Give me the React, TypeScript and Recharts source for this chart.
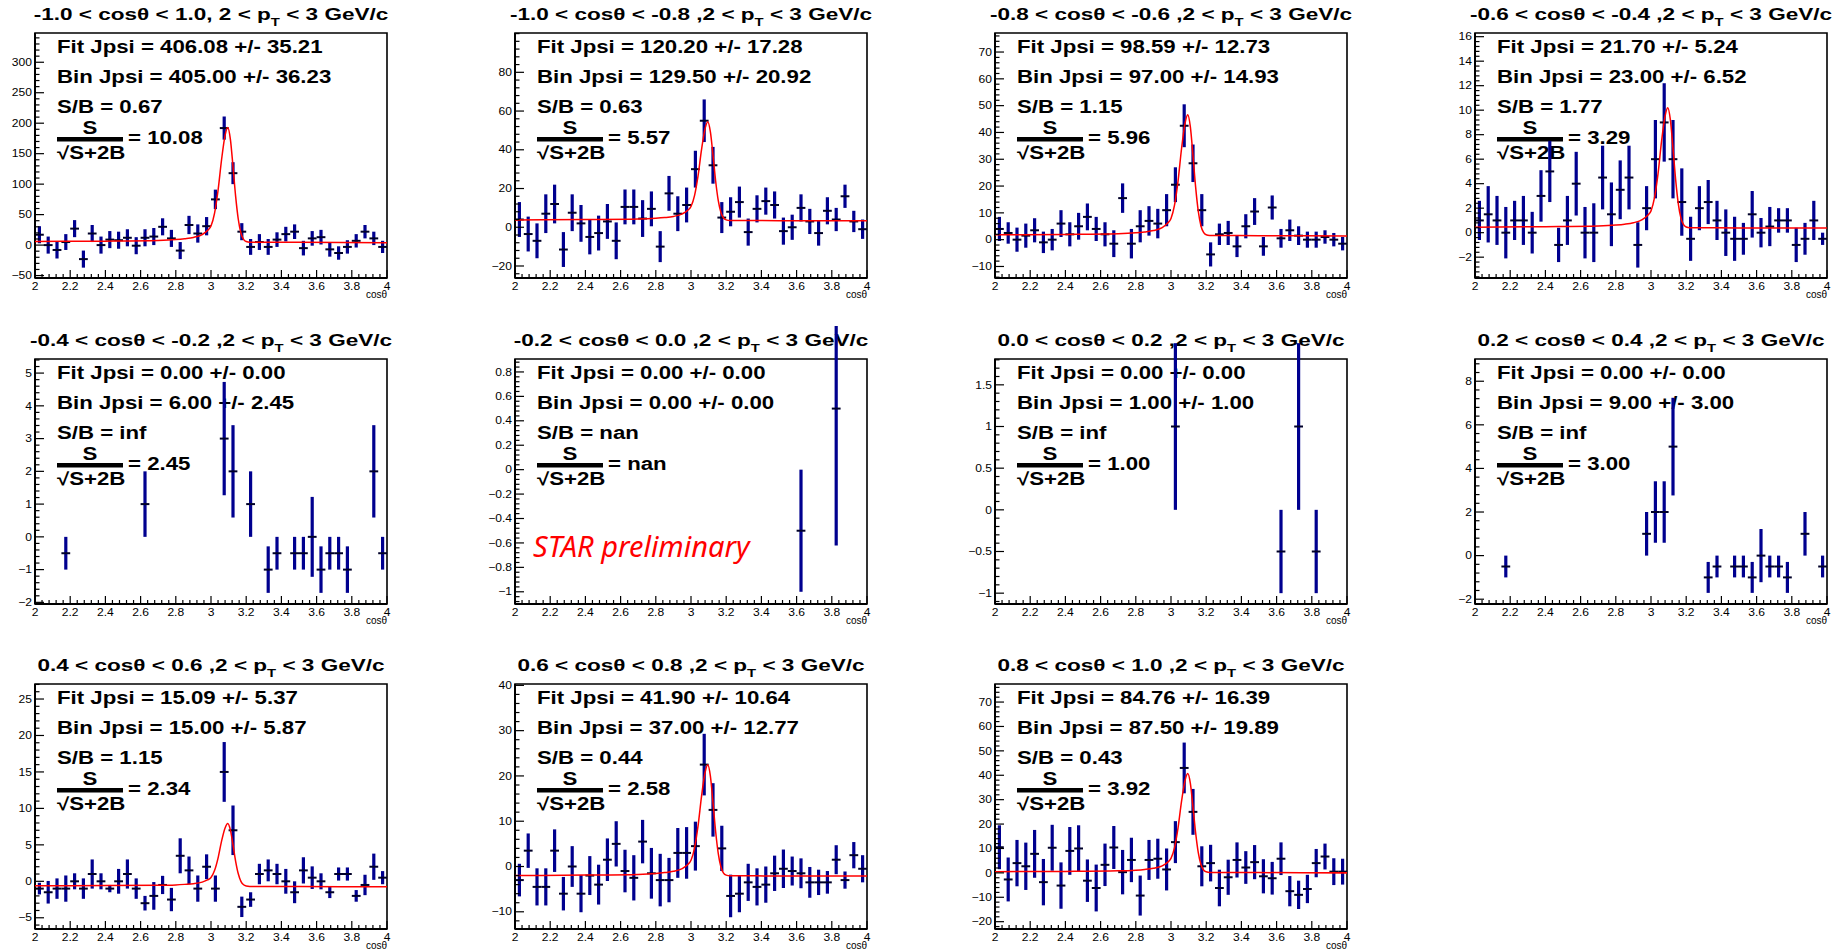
import React from 'react';
import { ScatterChart, Scatter, XAxis, YAxis, ErrorBar, ReferenceArea } from 'recharts';

// ---------- shared binning (dielectron mass, 40 bins of 0.05 from 2 to 4) ----------
const BIN_CENTERS = [
  2.025, 2.075, 2.125, 2.175, 2.225, 2.275, 2.325, 2.375, 2.425, 2.475,
  2.525, 2.575, 2.625, 2.675, 2.725, 2.775, 2.825, 2.875, 2.925, 2.975,
  3.025, 3.075, 3.125, 3.175, 3.225, 3.275, 3.325, 3.375, 3.425, 3.475,
  3.525, 3.575, 3.625, 3.675, 3.725, 3.775, 3.825, 3.875, 3.925, 3.975,
];
const BIN_HALF_WIDTH = 0.025;
const X_MAJOR_TICKS = [2, 2.2, 2.4, 2.6, 2.8, 3, 3.2, 3.4, 3.6, 3.8, 4];
const X_MINOR_STEP = 0.04;

// sample positions of the fitted signal + background curve
const FIT_X = [2.0, 2.4, 2.7, 2.8, 2.85, 2.9, 2.95, 2.98, 3.0, 3.02, 3.04, 3.06, 3.08, 3.095, 3.11, 3.125, 3.14, 3.155, 3.17, 3.185, 3.2, 3.22, 3.25, 3.5, 4.0];

// ---------- panel titles ----------
const TITLE_HEADS = [
  '-1.0 < cosθ < 1.0, 2 < p',
  '-1.0 < cosθ < -0.8 ,2 < p',
  '-0.8 < cosθ < -0.6 ,2 < p',
  '-0.6 < cosθ < -0.4 ,2 < p',
  '-0.4 < cosθ < -0.2 ,2 < p',
  '-0.2 < cosθ < 0.0 ,2 < p',
  '0.0 < cosθ < 0.2 ,2 < p',
  '0.2 < cosθ < 0.4 ,2 < p',
  '0.4 < cosθ < 0.6 ,2 < p',
  '0.6 < cosθ < 0.8 ,2 < p',
  '0.8 < cosθ < 1.0 ,2 < p',
];
const TITLE_TAIL = ' < 3 GeV/c';

// ---------- yield summaries ----------
const FIT_YIELD = ['406.08 +/- 35.21', '120.20 +/- 17.28', '98.59 +/- 12.73', '21.70 +/- 5.24', '0.00 +/- 0.00', '0.00 +/- 0.00', '0.00 +/- 0.00', '0.00 +/- 0.00', '15.09 +/- 5.37', '41.90 +/- 10.64', '84.76 +/- 16.39'];
const BIN_YIELD = ['405.00 +/- 36.23', '129.50 +/- 20.92', '97.00 +/- 14.93', '23.00 +/- 6.52', '6.00 +/- 2.45', '0.00 +/- 0.00', '1.00 +/- 1.00', '9.00 +/- 3.00', '15.00 +/- 5.87', '37.00 +/- 12.77', '87.50 +/- 19.89'];
const S_OVER_B = ['0.67', '0.63', '1.15', '1.77', 'inf', 'nan', 'inf', 'inf', '1.15', '0.44', '0.43'];
const SIGNIFICANCE = ['10.08', '5.57', '5.96', '3.29', '2.45', 'nan', '1.00', '3.00', '2.34', '2.58', '3.92'];

// ---------- y axes ----------
const Y_DOMAINS: [number, number][] = [
  [-54, 348], [-26.2, 100.3], [-14.3, 77.1], [-3.7, 16.3],
  [-2.05, 5.43], [-1.1, 0.906], [-1.13, 1.81], [-2.22, 9.02],
  [-6.54, 27.06], [-13.8, 40.3], [-23, 77.4],
];
const Y_MAJOR_TICKS = [
  [-50, 0, 50, 100, 150, 200, 250, 300],
  [-20, 0, 20, 40, 60, 80],
  [-10, 0, 10, 20, 30, 40, 50, 60, 70],
  [-2, 0, 2, 4, 6, 8, 10, 12, 14, 16],
  [-2, -1, 0, 1, 2, 3, 4, 5],
  [-1, -0.8, -0.6, -0.4, -0.2, 0, 0.2, 0.4, 0.6, 0.8],
  [-1, -0.5, 0, 0.5, 1, 1.5],
  [-2, 0, 2, 4, 6, 8],
  [-5, 0, 5, 10, 15, 20, 25],
  [-10, 0, 10, 20, 30, 40],
  [-20, -10, 0, 10, 20, 30, 40, 50, 60, 70],
];
const Y_MINOR_STEPS = [10, 4, 2, 0.4, 0.2, 0.04, 0.1, 0.4, 1, 2, 2];

// ---------- bin contents and errors ----------
const P1_COUNTS = [17, 0, -8, 5, 27, -23, 19, 0, 9, 8, 12, -1, 12, 14, 30, 11, -9, 33, 19, 31, 75, 192, 118, 22, -3, 5, -3, 9, 18, 22, -5, 11, 13, -7, -13, -3, 7, 22, 11, -3];
const P1_ERRORS = [14, 14, 14, 13, 14, 14, 14, 14, 14, 14, 14, 14, 14, 14, 14, 14, 14, 15, 15, 15, 16, 19, 18, 14, 13, 13, 13, 12, 12, 12, 12, 12, 12, 12, 11, 11, 11, 11, 11, 10];
const P1_FIT = [6, 6.5, 7.6, 9, 10.5, 12.6, 17.3, 23.8, 31.3, 52, 89.6, 140, 180, 193, 174, 129, 80, 42.4, 19.8, 9.5, 5.9, 4.8, 4.75, 4.5, 4.0];

const P2_COUNTS = [4, -3.5, -7, 7, 12, -11.5, 7.5, 2, -5, -3, 3, -7, 10.5, 10.5, 4.5, 9.5, -10, 17.5, 7, 11.5, 30, 55, 32, 5, 8, 13, -2.5, 9.5, 13.5, 11.5, -2, 0, 10, 3, -3, 8.5, 4, 16, 3, -1];
const P2_ERRORS = [9, 9, 9, 10, 10, 9, 9.5, 9.5, 9, 9, 9, 9.5, 9, 9, 9.5, 9, 8, 9, 9, 9, 9.5, 11, 9.5, 8, 7.5, 8, 7, 7, 7, 7, 7, 6.5, 7, 6.5, 6.5, 7, 6, 6, 5.5, 5];
const P2_FIT = [3.8, 3.96, 4.24, 4.62, 5.0, 5.6, 6.9, 8.65, 10.7, 16.3, 26.5, 40.2, 50.9, 54.5, 49.4, 37.2, 23.9, 13.7, 7.6, 4.8, 3.8, 3.5, 3.5, 3.4, 3.3];

const P3_COUNTS = [4, 2.5, 0, 1.5, 3.5, -1, 0, 6, 2, 5, 8.5, 4, 2, -1.5, 15.5, -1.5, 5, 7, 6, 11, 20.5, 42.5, 28.5, 11, -5.5, 2, 2.5, -2.5, 5, 10.5, -2.5, 12, 0.5, 3.5, 1.5, 0, 0, 1, 0, -1.5];
const P3_ERRORS = [4.5, 4, 4.5, 4.5, 4.5, 4, 4, 5, 4.5, 5, 5, 4.5, 4.5, 5, 5.5, 5.5, 6, 5.5, 5.5, 6, 6.5, 8, 7, 6, 4.5, 4, 4.5, 4, 4.5, 5, 3.5, 4.5, 3.5, 4, 3.5, 3, 3, 2.5, 2.5, 2.5];
const P3_FIT = [1.8, 1.95, 2.2, 2.54, 2.9, 3.4, 4.5, 6.1, 7.9, 12.85, 21.85, 34, 43.5, 46.6, 42.1, 31.3, 19.6, 10.6, 5.2, 2.7, 1.83, 1.6, 1.55, 1.5, 1.4];

const P4_COUNTS = [1, 1.5, 1, 0, 1, 1, 0, 3, 5, -1, 1, 4, 0, 0, 4.5, 1.5, 3.5, 4.5, -1, 2, 6, 9, 6, 2.5, -0.5, 2, 2.5, 1, 0, -0.5, -0.5, 1.5, 0, 0.5, 1, 1, -1, -0.5, 1, -0.5];
const P4_ERRORS = [1.6, 2.3, 2, 2.1, 1.6, 2, 1.7, 2.1, 2.5, 1.4, 2, 2.6, 2.1, 2.4, 2.6, 2.6, 2.4, 2.6, 1.85, 1.8, 3.2, 3.2, 3.2, 2.75, 1.8, 1.8, 1.8, 1.6, 1.9, 1.8, 1.3, 1.9, 1.2, 1.6, 1, 1, 1.4, 1.3, 1.6, 0.5];
const P4_FIT = [0.45, 0.49, 0.55, 0.62, 0.69, 0.81, 1.06, 1.4, 1.78, 2.86, 4.82, 7.47, 9.52, 10.2, 9.23, 6.88, 4.33, 2.37, 1.19, 0.65, 0.46, 0.4, 0.4, 0.39, 0.38];

const P5_COUNTS = [
  null, null, null, -0.5, null, null, null, null, null, null,
  null, null, 1, null, null, null, null, null, null, null,
  null, 3, 2, null, 1, null, -1, -0.5, null, -0.5,
  -0.5, 0, -1, -0.5, -0.5, -1, null, null, 2, -0.5,
];
const P5_ERRORS = [
  null, null, null, 0.5, null, null, null, null, null, null,
  null, null, 1, null, null, null, null, null, null, null,
  null, 1.73, 1.41, null, 1, null, 0.71, 0.5, null, 0.5,
  0.5, 1.22, 0.71, 0.5, 0.5, 0.71, null, null, 1.41, 0.5,
];

const P6_COUNTS = [
  null, null, null, null, null, null, null, null, null, null,
  null, null, null, null, null, null, null, null, null, null,
  null, null, null, null, null, null, null, null, null, null,
  null, null, -0.5, null, null, null, 0.5, null, null, null,
];
const P6_ERRORS = [
  null, null, null, null, null, null, null, null, null, null,
  null, null, null, null, null, null, null, null, null, null,
  null, null, null, null, null, null, null, null, null, null,
  null, null, 0.5, null, null, null, 1.12, null, null, null,
];

const P7_COUNTS = [
  null, null, null, null, null, null, null, null, null, null,
  null, null, null, null, null, null, null, null, null, null,
  1, null, null, null, null, null, null, null, null, null,
  null, null, -0.5, null, 1, null, -0.5, null, null, null,
];
const P7_ERRORS = [
  null, null, null, null, null, null, null, null, null, null,
  null, null, null, null, null, null, null, null, null, null,
  1, null, null, null, null, null, null, null, null, null,
  null, null, 0.5, null, 1, null, 0.5, null, null, null,
];

const P8_COUNTS = [
  null, null, null, -0.5, null, null, null, null, null, null,
  null, null, null, null, null, null, null, null, null, 1,
  2, 2, 5, null, null, null, -1, -0.5, null, -0.5,
  -0.5, -1, 0, -0.5, -0.5, -1, null, 1, null, -0.5,
];
const P8_ERRORS = [
  null, null, null, 0.5, null, null, null, null, null, null,
  null, null, null, null, null, null, null, null, null, 1,
  1.41, 1.41, 2.24, null, null, null, 0.71, 0.5, null, 0.5,
  0.5, 0.71, 1.22, 0.5, 0.5, 0.71, null, 1, null, 0.5,
];

const P9_COUNTS = [-1, -1.5, -1, -1, 0, -1, 1, 0, -1, 0, 1, -1, -3, -2, -0.5, -2.5, 3.5, 1.5, -1, 2, -1, 15, 7, -3.5, -2.5, 1, 1.5, 1, 0, -1.5, 1.5, 0.5, 0, -1.5, 1, 1, -2, -0.5, 2, 0.5];
const P9_ERRORS = [0.8, 1.55, 1.4, 1.8, 1.1, 1.4, 2, 1.1, 0.5, 1.7, 2, 1.4, 1, 1.9, 1.25, 1.6, 2.4, 1.9, 1.8, 1.7, 1.8, 4.1, 3.4, 1.4, 1, 1.4, 1.5, 1.4, 1.7, 1.5, 1.8, 1.55, 1.1, 0.8, 0.9, 0.9, 0.8, 1.4, 1.8, 0.9];
const P9_FIT = [-0.6, -0.59, -0.55, -0.49, -0.42, -0.33, -0.11, 0.19, 0.52, 1.47, 3.19, 5.51, 7.32, 7.92, 7.06, 5.0, 2.75, 1.03, 0, -0.47, -0.64, -0.7, -0.7, -0.72, -0.75];

const P10_COUNTS = [-3, 3.5, -4.5, -4.5, 3.5, -6, 0, -6, -2, -4, 1.5, 5, -1, -2.5, 5.5, -1.5, -3, -3, 3, 3, 4.5, 22.5, 12.5, 4, -6.5, -6, -3.5, -4.5, -4, -1.5, -0.5, -1, -1.5, -3.5, -3.5, -3.5, 1.5, -3, 2.5, -0.5];
const P10_ERRORS = [3.6, 3.8, 4.1, 4.1, 4.7, 3.7, 4.5, 4.1, 4.3, 4.4, 4.7, 5, 4.7, 5, 4.8, 5.6, 5.8, 4.9, 5.5, 5.7, 5.4, 6.8, 5.9, 5, 4.7, 4.1, 4.1, 4.1, 4, 3.9, 4.25, 3.2, 3.3, 3.4, 2.8, 2.5, 3.2, 1.9, 2.9, 3];
const P10_FIT = [-2.0, -1.9, -1.75, -1.55, -1.35, -1.07, -0.46, 0.4, 1.38, 4.05, 8.95, 15.55, 20.75, 22.45, 20, 14.1, 7.74, 2.84, -0.1, -1.45, -1.91, -2.06, -2.06, -2.08, -2.1];

const P11_COUNTS = [10.5, -2.7, 4, 2.7, 7.8, -3.8, 10.3, -5.2, 9, 10, -3.2, -6.2, 3.3, 10.4, 0.3, 5.3, -9.3, 5.3, 5.8, 1.4, 12.6, 43, 25, 2.7, 4, -6.2, -1.8, 5.3, 2.2, 4.4, -1.4, -2.2, 5.8, -7.5, -9, -6.6, 4, 6.7, 0.5, 0.5];
const P11_ERRORS = [9, 9, 9.5, 9.7, 9.8, 9.5, 9.4, 9.5, 9.8, 9.5, 8.7, 9.6, 8.7, 8.8, 9.1, 9.1, 8.2, 8.2, 8.2, 8.6, 8.6, 10.4, 9.4, 8.2, 7.5, 7.5, 7.2, 7.2, 6.7, 7, 7, 6.7, 6.7, 6.2, 5.8, 5.8, 5.8, 5.3, 5.5, 5.3];
const P11_FIT = [0.5, 0.6, 0.82, 1.11, 1.42, 1.9, 2.89, 4.31, 5.92, 10.35, 18.44, 29.4, 37.9, 40.7, 36.7, 26.9, 16.4, 8.3, 3.45, 1.2, 0.44, 0.2, 0.19, 0.12, 0.0];

const PANEL_COUNTS = [P1_COUNTS, P2_COUNTS, P3_COUNTS, P4_COUNTS, P5_COUNTS, P6_COUNTS, P7_COUNTS, P8_COUNTS, P9_COUNTS, P10_COUNTS, P11_COUNTS];
const PANEL_ERRORS = [P1_ERRORS, P2_ERRORS, P3_ERRORS, P4_ERRORS, P5_ERRORS, P6_ERRORS, P7_ERRORS, P8_ERRORS, P9_ERRORS, P10_ERRORS, P11_ERRORS];
const PANEL_FITS = [P1_FIT, P2_FIT, P3_FIT, P4_FIT, null, null, null, null, P9_FIT, P10_FIT, P11_FIT];

// ---------- layout & style ----------
const COL_LEFT = [35, 515, 995, 1475];
const ROW_TOP = [33, 359, 684];
const FRAME_W = 352;
const FRAME_H = 245;
const Y_AXIS_W = 35;
const TOP_PAD = 33;
const RIGHT_PAD = 12;
const X_AXIS_H = 28;
const CHART_W = Y_AXIS_W + FRAME_W + RIGHT_PAD;
const CHART_H = TOP_PAD + FRAME_H + X_AXIS_H;

const SANS = "'Liberation Sans', Arial, Helvetica, sans-serif";
const MARKER_BLUE = '#00008f';
const BIN_BAR = '#000028';
const FIT_RED = '#ff0000';
const TITLE_FS = 16;
const TITLE_SX = 1.41;
const STAT_FS = 17.5;
const STAT_SX = 1.27;
const TICK_FS = 10.5;
const TICK_SX = 1.15;

const fmtTick = (v: number) => {
  const r = Number(v.toFixed(3));
  const s = String(Math.abs(r));
  return r < 0 ? '\u2212' + s : s;
};

const tickRange = (min: number, max: number, step: number) => {
  const out: number[] = [];
  const k0 = Math.ceil(min / step - 1e-6);
  const k1 = Math.floor(max / step + 1e-6);
  for (let k = k0; k <= k1; k++) out.push(Number((k * step).toFixed(6)));
  return out;
};

const isMajor = (v: number, majors: number[], step: number) => majors.some((m) => Math.abs(m - v) < step * 1e-3);

const makeYTick = (majors: number[], step: number) => (props: any) => {
  const { x, y, payload } = props;
  const v = payload.value as number;
  const major = isMajor(v, majors, step);
  return (
    <g>
      <line x1={x} x2={x + (major ? 9 : 4.5)} y1={y} y2={y} stroke="#000" strokeWidth={1.2} />
      {major && (
        <text transform={`translate(${x - 3},${y}) scale(${TICK_SX},1)`} dy="0.35em" textAnchor="end" fontSize={TICK_FS} fontFamily={SANS} fill="#000">
          {fmtTick(v)}
        </text>
      )}
    </g>
  );
};

const makeXTick = (majors: number[], step: number) => (props: any) => {
  const { x, y, payload } = props;
  const v = payload.value as number;
  const major = isMajor(v, majors, step);
  return (
    <g>
      <line x1={x} x2={x} y1={y} y2={y - (major ? 8 : 4)} stroke="#000" strokeWidth={1.2} />
      {major && (
        <text transform={`translate(${x},${y + 11.5}) scale(${TICK_SX},1)`} textAnchor="middle" fontSize={TICK_FS} fontFamily={SANS} fill="#000">
          {fmtTick(v)}
        </text>
      )}
    </g>
  );
};

const hiddenPoint = () => <g />;

function PanelText({ i }: { i: number }) {
  const fx = Y_AXIS_W;
  const fy = TOP_PAD;
  const tx = fx + 22;
  return (
    <svg width={CHART_W} height={CHART_H} style={{ position: 'absolute', left: 0, top: 0, overflow: 'visible' }}>
      <g fontFamily={SANS} fontWeight="bold" fill="#000" style={{ whiteSpace: 'pre' }}>
        <text transform={`translate(${fx + FRAME_W / 2},${fy - 13}) scale(${TITLE_SX},1)`} textAnchor="middle" fontSize={TITLE_FS}>
          {TITLE_HEADS[i]}
          <tspan fontSize={10.5} dy={6}>T</tspan>
          <tspan dy={-6}>{TITLE_TAIL}</tspan>
        </text>
        <text transform={`translate(${tx},${fy + 20}) scale(${STAT_SX},1)`} fontSize={STAT_FS}>{`Fit Jpsi = ${FIT_YIELD[i]}`}</text>
        <text transform={`translate(${tx},${fy + 50}) scale(${STAT_SX},1)`} fontSize={STAT_FS}>{`Bin Jpsi = ${BIN_YIELD[i]}`}</text>
        <text transform={`translate(${tx},${fy + 80}) scale(${STAT_SX},1)`} fontSize={STAT_FS}>{`S/B = ${S_OVER_B[i]}`}</text>
        <text transform={`translate(${tx + 33},${fy + 101}) scale(${STAT_SX},1)`} fontSize={STAT_FS} textAnchor="middle">S</text>
        <rect x={tx} y={fy + 104} width={66} height={4.5} fill="#000" />
        <text transform={`translate(${tx},${fy + 126}) scale(${STAT_SX},1)`} fontSize={STAT_FS}>√S+2B</text>
        <text transform={`translate(${tx + 71},${fy + 111}) scale(${STAT_SX},1)`} fontSize={STAT_FS}>{`= ${SIGNIFICANCE[i]}`}</text>
      </g>
      <text x={fx + FRAME_W} y={fy + FRAME_H + 20} textAnchor="end" fontSize={10} fontFamily={SANS} fill="#000">cosθ</text>
      {i === 5 && (
        <text x={fx + 18} y={fy + 198} fontSize={29} fontStyle="italic" fontFamily="'Noto Sans', 'Open Sans', sans-serif" fill="#ff0000">
          STAR preliminary
        </text>
      )}
    </svg>
  );
}

function Panel({ i }: { i: number }) {
  const col = i % 4;
  const row = Math.floor(i / 4);
  const left = COL_LEFT[col] - Y_AXIS_W;
  const top = ROW_TOP[row] - TOP_PAD;
  const [ymin, ymax] = Y_DOMAINS[i];
  const yStep = Y_MINOR_STEPS[i];
  const yTicks = tickRange(ymin, ymax, yStep);
  const xTicks = tickRange(2, 4, X_MINOR_STEP);

  const counts = PANEL_COUNTS[i];
  const errors = PANEL_ERRORS[i];
  const points = BIN_CENTERS.map((x, k) => ({ x, y: counts[k], err: errors[k], xerr: BIN_HALF_WIDTH })).filter(
    (p) => p.y !== null && p.y !== undefined,
  );
  const fitValues = PANEL_FITS[i];
  const fit = fitValues ? FIT_X.map((x, k) => ({ x, y: fitValues[k] })) : null;

  return (
    <div style={{ position: 'absolute', left, top, width: CHART_W, height: CHART_H }}>
      <PanelText i={i} />
      <div style={{ position: 'absolute', left: 0, top: 0 }}>
        <ScatterChart width={CHART_W} height={CHART_H} margin={{ top: TOP_PAD, right: RIGHT_PAD, bottom: 0, left: 0 }}>
          <XAxis
            type="number"
            dataKey="x"
            domain={[2, 4]}
            ticks={xTicks}
            interval={0}
            tickSize={0}
            tickMargin={0}
            tickLine={false}
            height={X_AXIS_H}
            axisLine={{ stroke: '#000', strokeWidth: 2 }}
            tick={makeXTick(X_MAJOR_TICKS, X_MINOR_STEP)}
            allowDataOverflow
          />
          <YAxis
            type="number"
            dataKey="y"
            domain={[ymin, ymax]}
            ticks={yTicks}
            interval={0}
            tickSize={0}
            tickMargin={0}
            tickLine={false}
            width={Y_AXIS_W}
            axisLine={{ stroke: '#000', strokeWidth: 2 }}
            tick={makeYTick(Y_MAJOR_TICKS[i], yStep)}
            allowDataOverflow
          />
          <ReferenceArea x1={2} x2={4} y1={ymin} y2={ymax} fill="none" stroke="#000" strokeWidth={1.6} ifOverflow="visible" />
          <Scatter data={points} shape={hiddenPoint} isAnimationActive={false}>
            <ErrorBar dataKey="err" direction="y" width={0} strokeWidth={3.2} stroke={MARKER_BLUE} />
            <ErrorBar dataKey="xerr" direction="x" width={0} strokeWidth={2} stroke={BIN_BAR} />
          </Scatter>
          {fit && (
            <Scatter
              data={fit}
              shape={hiddenPoint}
              line={{ stroke: FIT_RED, strokeWidth: 1.5 }}
              lineType="joint"
              lineJointType="monotoneX"
              isAnimationActive={false}
            />
          )}
        </ScatterChart>
      </div>
    </div>
  );
}

export default function App() {
  return (
    <div style={{ position: 'absolute', left: 0, top: 0, width: 1847, height: 950, background: '#fff', overflow: 'hidden' }}>
      {TITLE_HEADS.map((_, i) => (
        <Panel key={i} i={i} />
      ))}
    </div>
  );
}
